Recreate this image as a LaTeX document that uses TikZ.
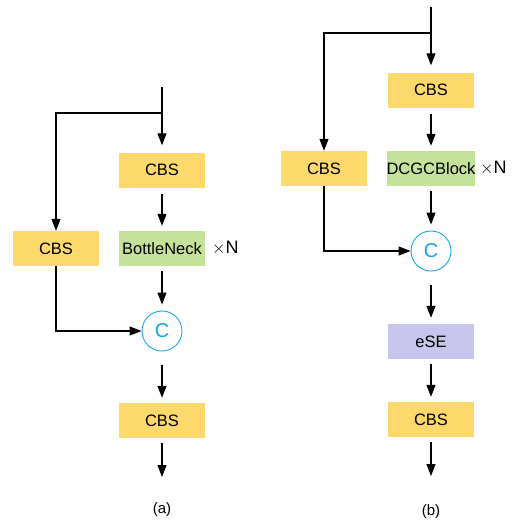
\documentclass[tikz,border=0pt]{standalone}
\usepackage{fontspec}
\setmainfont{Liberation Sans}
\usetikzlibrary{arrows.meta}
\definecolor{cbsY}{RGB}{253,216,106}
\definecolor{grnB}{RGB}{197,226,155}
\definecolor{lavB}{RGB}{199,197,236}
\definecolor{cyanC}{RGB}{20,165,230}
\tikzset{
  blk/.style={minimum width=86pt,minimum height=35pt,inner sep=0pt,font=\fontsize{16.5}{16.5}\selectfont},
  cbs/.style={blk,fill=cbsY},
  grn/.style={blk,fill=grnB},
  lav/.style={blk,fill=lavB},
  cat/.style={circle,draw=cyanC,line width=0.9pt,minimum size=40pt,inner sep=0pt,text=cyanC,font=\fontsize{20}{20}\selectfont},
  arr/.style={line width=1.1pt,-{Triangle[length=12pt,width=9pt]}},
  ln/.style={line width=1.1pt},
  lbl/.style={font=\fontsize{15}{15}\selectfont},
  times/.style={anchor=west,inner sep=0pt,font=\fontsize{18}{18}\selectfont}
}
\begin{document}
\begin{tikzpicture}[x=1pt,y=-1pt]
\useasboundingbox (0,0) rectangle (516,523);
% (a)
\coordinate (ta) at (162,87);
\coordinate (ja) at (162,113);
\node[cbs] (ca1) at (162,170) {CBS};
\node[grn] (bn) at (162,248.5) {BottleNeck};
\node[times] (xa) at (212,248.5) {$\times$N};
\node[cbs] (cl) at (56,248.5) {CBS};
\node[cat] (ca) at (162,331) {C};
\node[cbs] (ca2) at (162,420.5) {CBS};
\coordinate (ea) at (162,477);
\node[lbl] (la) at (162,510) {(a)};
\draw[ln] (ta) -- (ja);
\draw[arr,shorten >=7pt] (ja) -- (ca1);
\draw[arr] (ja) -| (cl);
\draw[arr,shorten <=6pt,shorten >=5pt] (ca1) -- (bn);
\draw[arr,shorten <=5pt,shorten >=6pt] (bn) -- (ca);
\draw[arr] (cl) |- (ca);
\draw[arr,shorten <=14pt,shorten >=5pt] (ca) -- (ca2);
\draw[arr,shorten <=5pt] (ca2) -- (ea);
% (b)
\coordinate (tb) at (431,7);
\coordinate (jb) at (431,33);
\node[cbs] (cb1) at (431,90) {CBS};
\node[grn] (dc) at (431,168.5) {DCGCBlock};
\node[times] (xb) at (480,168.5) {$\times$N};
\node[cbs] (cbl) at (324,168.5) {CBS};
\node[cat] (cb) at (431,251) {C};
\node[lav] (ese) at (431,341.5) {eSE};
\node[cbs] (cb2) at (431,419.5) {CBS};
\coordinate (eb) at (431,476);
\node[lbl] (lb) at (431,512) {(b)};
\draw[ln] (tb) -- (jb);
\draw[arr,shorten >=7pt] (jb) -- (cb1);
\draw[arr] (jb) -| (cbl);
\draw[arr,shorten <=6pt,shorten >=5pt] (cb1) -- (dc);
\draw[arr,shorten <=5pt,shorten >=6pt] (dc) -- (cb);
\draw[arr] (cbl) |- (cb);
\draw[arr,shorten <=14pt,shorten >=6pt] (cb) -- (ese);
\draw[arr,shorten <=5pt,shorten >=5pt] (ese) -- (cb2);
\draw[arr,shorten <=5pt] (cb2) -- (eb);
\end{tikzpicture}
\end{document}
